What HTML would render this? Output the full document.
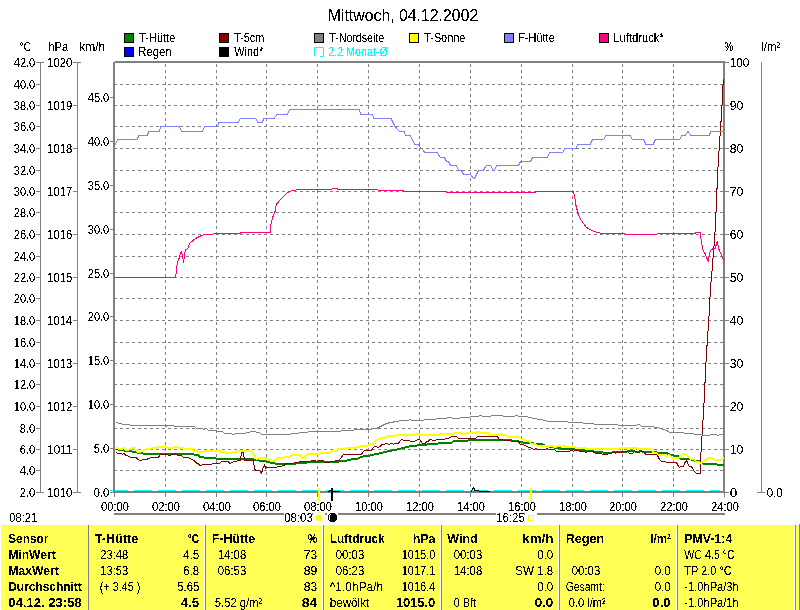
<!DOCTYPE html><html><head><meta charset="utf-8"><title>Mittwoch, 04.12.2002</title><style>html,body{margin:0;padding:0;background:#fff;overflow:hidden}svg{display:block}</style></head><body><svg width="800" height="610" viewBox="0 0 800 610" font-family="Liberation Sans">
<rect width="800" height="610" fill="#fff"/>
<rect x="124.5" y="33.5" width="9" height="9" fill="#008000" stroke="#000" stroke-width="1"/>
<rect x="219.5" y="33.5" width="9" height="9" fill="#800000" stroke="#000" stroke-width="1"/>
<rect x="314.5" y="33.5" width="9" height="9" fill="#808080" stroke="#000" stroke-width="1"/>
<rect x="409.5" y="33.5" width="9" height="9" fill="#FFFF00" stroke="#000" stroke-width="1"/>
<rect x="504.5" y="33.5" width="9" height="9" fill="#8080FF" stroke="#000" stroke-width="1"/>
<rect x="599.5" y="33.5" width="9" height="9" fill="#FF0080" stroke="#000" stroke-width="1"/>
<rect x="124.5" y="47.5" width="9" height="9" fill="#0000FF" stroke="#000" stroke-width="1"/>
<rect x="219.5" y="47.5" width="9" height="9" fill="#000000" stroke="#000" stroke-width="1"/>
<path d="M314.5 56 V47.5 H323.5 V56.5 H320" fill="none" stroke="#00FFFF" stroke-width="1"/>
<rect x="40" y="62" width="1" height="431" fill="#808080"/>
<rect x="77" y="62" width="1" height="431" fill="#808080"/>
<rect x="36" y="62" width="8" height="1" fill="#808080"/>
<rect x="73" y="62" width="8" height="1" fill="#808080"/>
<rect x="36" y="84" width="4" height="1" fill="#808080"/>
<rect x="36" y="105" width="4" height="1" fill="#808080"/>
<rect x="36" y="126" width="4" height="1" fill="#808080"/>
<rect x="36" y="148" width="4" height="1" fill="#808080"/>
<rect x="36" y="170" width="4" height="1" fill="#808080"/>
<rect x="36" y="191" width="4" height="1" fill="#808080"/>
<rect x="36" y="212" width="4" height="1" fill="#808080"/>
<rect x="36" y="234" width="4" height="1" fill="#808080"/>
<rect x="36" y="256" width="4" height="1" fill="#808080"/>
<rect x="36" y="277" width="4" height="1" fill="#808080"/>
<rect x="36" y="298" width="4" height="1" fill="#808080"/>
<rect x="36" y="320" width="4" height="1" fill="#808080"/>
<rect x="36" y="342" width="4" height="1" fill="#808080"/>
<rect x="36" y="363" width="4" height="1" fill="#808080"/>
<rect x="36" y="384" width="4" height="1" fill="#808080"/>
<rect x="36" y="406" width="4" height="1" fill="#808080"/>
<rect x="36" y="428" width="4" height="1" fill="#808080"/>
<rect x="36" y="449" width="4" height="1" fill="#808080"/>
<rect x="36" y="470" width="4" height="1" fill="#808080"/>
<rect x="36" y="492" width="8" height="1" fill="#808080"/>
<rect x="73" y="492" width="8" height="1" fill="#808080"/>
<rect x="73" y="105" width="4" height="1" fill="#808080"/>
<rect x="73" y="148" width="4" height="1" fill="#808080"/>
<rect x="73" y="191" width="4" height="1" fill="#808080"/>
<rect x="73" y="234" width="4" height="1" fill="#808080"/>
<rect x="73" y="277" width="4" height="1" fill="#808080"/>
<rect x="73" y="320" width="4" height="1" fill="#808080"/>
<rect x="73" y="363" width="4" height="1" fill="#808080"/>
<rect x="73" y="406" width="4" height="1" fill="#808080"/>
<rect x="73" y="449" width="4" height="1" fill="#808080"/>
<rect x="110" y="492" width="3" height="1" fill="#808080"/>
<rect x="110" y="448" width="3" height="1" fill="#808080"/>
<rect x="110" y="404" width="3" height="1" fill="#808080"/>
<rect x="110" y="360" width="3" height="1" fill="#808080"/>
<rect x="110" y="316" width="3" height="1" fill="#808080"/>
<rect x="110" y="273" width="3" height="1" fill="#808080"/>
<rect x="110" y="229" width="3" height="1" fill="#808080"/>
<rect x="110" y="185" width="3" height="1" fill="#808080"/>
<rect x="110" y="141" width="3" height="1" fill="#808080"/>
<rect x="110" y="97" width="3" height="1" fill="#808080"/>
<rect x="725" y="62" width="4" height="1" fill="#808080"/>
<rect x="725" y="105" width="4" height="1" fill="#808080"/>
<rect x="725" y="148" width="4" height="1" fill="#808080"/>
<rect x="725" y="191" width="4" height="1" fill="#808080"/>
<rect x="725" y="234" width="4" height="1" fill="#808080"/>
<rect x="725" y="277" width="4" height="1" fill="#808080"/>
<rect x="725" y="320" width="4" height="1" fill="#808080"/>
<rect x="725" y="363" width="4" height="1" fill="#808080"/>
<rect x="725" y="406" width="4" height="1" fill="#808080"/>
<rect x="725" y="449" width="4" height="1" fill="#808080"/>
<rect x="725" y="492" width="4" height="1" fill="#808080"/>
<rect x="761" y="62" width="1" height="431" fill="#808080"/>
<rect x="757" y="492" width="8" height="1" fill="#808080"/>
<g stroke="#808080" stroke-width="1" shape-rendering="crispEdges">
<line x1="114" y1="84.5" x2="723" y2="84.5" stroke-dasharray="3 3"/>
<line x1="114" y1="105.5" x2="723" y2="105.5" stroke-dasharray="3 3"/>
<line x1="114" y1="126.5" x2="723" y2="126.5" stroke-dasharray="3 3"/>
<line x1="114" y1="148.5" x2="723" y2="148.5" stroke-dasharray="3 3"/>
<line x1="114" y1="170.5" x2="723" y2="170.5" stroke-dasharray="3 3"/>
<line x1="114" y1="191.5" x2="723" y2="191.5" stroke-dasharray="3 3"/>
<line x1="114" y1="212.5" x2="723" y2="212.5" stroke-dasharray="3 3"/>
<line x1="114" y1="234.5" x2="723" y2="234.5" stroke-dasharray="3 3"/>
<line x1="114" y1="256.5" x2="723" y2="256.5" stroke-dasharray="3 3"/>
<line x1="114" y1="277.5" x2="723" y2="277.5" stroke-dasharray="3 3"/>
<line x1="114" y1="298.5" x2="723" y2="298.5" stroke-dasharray="3 3"/>
<line x1="114" y1="320.5" x2="723" y2="320.5" stroke-dasharray="3 3"/>
<line x1="114" y1="342.5" x2="723" y2="342.5" stroke-dasharray="3 3"/>
<line x1="114" y1="363.5" x2="723" y2="363.5" stroke-dasharray="3 3"/>
<line x1="114" y1="384.5" x2="723" y2="384.5" stroke-dasharray="3 3"/>
<line x1="114" y1="406.5" x2="723" y2="406.5" stroke-dasharray="3 3"/>
<line x1="114" y1="428.5" x2="723" y2="428.5" stroke-dasharray="3 3"/>
<line x1="114" y1="449.5" x2="723" y2="449.5" stroke-dasharray="3 3"/>
<line x1="114" y1="470.5" x2="723" y2="470.5" stroke-dasharray="3 3"/>
<line x1="165.5" y1="64" x2="165.5" y2="491" stroke-dasharray="3 3"/>
<line x1="216.5" y1="64" x2="216.5" y2="491" stroke-dasharray="3 3"/>
<line x1="266.5" y1="64" x2="266.5" y2="491" stroke-dasharray="3 3"/>
<line x1="317.5" y1="64" x2="317.5" y2="491" stroke-dasharray="3 3"/>
<line x1="368.5" y1="64" x2="368.5" y2="491" stroke-dasharray="3 3"/>
<line x1="419.5" y1="64" x2="419.5" y2="491" stroke-dasharray="3 3"/>
<line x1="470.5" y1="64" x2="470.5" y2="491" stroke-dasharray="3 3"/>
<line x1="521.5" y1="64" x2="521.5" y2="491" stroke-dasharray="3 3"/>
<line x1="572.5" y1="64" x2="572.5" y2="491" stroke-dasharray="3 3"/>
<line x1="622.5" y1="64" x2="622.5" y2="491" stroke-dasharray="3 3"/>
<line x1="673.5" y1="64" x2="673.5" y2="491" stroke-dasharray="3 3"/>
</g>
<rect x="114" y="493" width="1" height="4" fill="#808080"/>
<rect x="165" y="493" width="1" height="4" fill="#808080"/>
<rect x="216" y="493" width="1" height="4" fill="#808080"/>
<rect x="266" y="493" width="1" height="4" fill="#808080"/>
<rect x="317" y="493" width="1" height="4" fill="#808080"/>
<rect x="368" y="493" width="1" height="4" fill="#808080"/>
<rect x="419" y="493" width="1" height="4" fill="#808080"/>
<rect x="470" y="493" width="1" height="4" fill="#808080"/>
<rect x="521" y="493" width="1" height="4" fill="#808080"/>
<rect x="572" y="493" width="1" height="4" fill="#808080"/>
<rect x="622" y="493" width="1" height="4" fill="#808080"/>
<rect x="673" y="493" width="1" height="4" fill="#808080"/>
<rect x="724" y="493" width="1" height="4" fill="#808080"/>
<g shape-rendering="crispEdges">
<rect x="110" y="490" width="18" height="1" fill="#00FFFF"/>
<rect x="134" y="490" width="18" height="1" fill="#00FFFF"/>
<rect x="158" y="490" width="18" height="1" fill="#00FFFF"/>
<rect x="182" y="490" width="18" height="1" fill="#00FFFF"/>
<rect x="206" y="490" width="18" height="1" fill="#00FFFF"/>
<rect x="230" y="490" width="18" height="1" fill="#00FFFF"/>
<rect x="254" y="490" width="18" height="1" fill="#00FFFF"/>
<rect x="278" y="490" width="18" height="1" fill="#00FFFF"/>
<rect x="302" y="490" width="18" height="1" fill="#00FFFF"/>
<rect x="326" y="490" width="18" height="1" fill="#00FFFF"/>
<rect x="350" y="490" width="18" height="1" fill="#00FFFF"/>
<rect x="374" y="490" width="18" height="1" fill="#00FFFF"/>
<rect x="398" y="490" width="18" height="1" fill="#00FFFF"/>
<rect x="422" y="490" width="18" height="1" fill="#00FFFF"/>
<rect x="446" y="490" width="18" height="1" fill="#00FFFF"/>
<rect x="470" y="490" width="18" height="1" fill="#00FFFF"/>
<rect x="494" y="490" width="18" height="1" fill="#00FFFF"/>
<rect x="518" y="490" width="18" height="1" fill="#00FFFF"/>
<rect x="542" y="490" width="18" height="1" fill="#00FFFF"/>
<rect x="566" y="490" width="18" height="1" fill="#00FFFF"/>
<rect x="590" y="490" width="18" height="1" fill="#00FFFF"/>
<rect x="614" y="490" width="18" height="1" fill="#00FFFF"/>
<rect x="638" y="490" width="18" height="1" fill="#00FFFF"/>
<rect x="662" y="490" width="18" height="1" fill="#00FFFF"/>
<rect x="686" y="490" width="18" height="1" fill="#00FFFF"/>
<rect x="710" y="490" width="10" height="1" fill="#00FFFF"/>
</g>
<rect x="115" y="61" width="610" height="2" fill="#808080"/>
<rect x="113" y="491" width="612" height="2" fill="#808080"/>
<rect x="113" y="62" width="2" height="431" fill="#808080"/>
<rect x="723" y="61" width="2" height="432" fill="#808080"/>
<rect x="114" y="493" width="1" height="4" fill="#808080"/>
<rect x="110" y="492" width="3" height="1" fill="#808080"/>
<rect x="725" y="492" width="3" height="1" fill="#808080"/>
<g shape-rendering="crispEdges">
<polyline points="115.5,449 117.5,449 119.5,450 123.5,450 124.5,451 131.5,451 132.5,452 136.5,452 138.5,453 142.5,453 143.5,454 158.5,454 163.5,454 193.5,454 194.5,455 198.5,455 199.5,457 203.5,457 204.5,458 213.5,458 215.5,458 216.5,459 253.5,459 254.5,460 258.5,460 259.5,461 264.5,461 265.5,461 266.5,462 269.5,462 270.5,463 274.5,463 275.5,464 295.5,464 296.5,463 306.5,463 307.5,462 314.5,462 338.5,462 339.5,461 346.5,461 347.5,460 350.5,460 351.5,459 357.5,459 358.5,458 364.5,456 369.5,456 370.5,455 373.5,455 374.5,454 378.5,454 379.5,453 382.5,453 383.5,452 386.5,452 387.5,451 391.5,451 392.5,450 396.5,450 397.5,449 400.5,449 401.5,448 404.5,448 405.5,447 408.5,447 409.5,446 414.5,446 416.5,446 417.5,445 426.5,445 427.5,444 437.5,444 438.5,443 451.5,443 452.5,442 453.5,441 464.5,441 467.5,441 468.5,440 511.5,440 512.5,441 514.5,441 518.5,441 519.5,442 522.5,442 523.5,443 530.5,443 536.5,444 541.5,444 545.5,446 552.5,447 556.5,448 564.5,449 574.5,449 575.5,450 584.5,450 585.5,451 593.5,451 594.5,452 602.5,452 603.5,453 611.5,453 612.5,452 614.5,452 626.5,452 627.5,451 634.5,451 635.5,452 638.5,452 639.5,451 641.5,451 642.5,452 656.5,452 657.5,453 664.5,453 666.5,453 668.5,454 671.5,455 673.5,455 674.5,456 678.5,456 679.5,458 680.5,459 689.5,459 693.5,460 694.5,461 700.5,461 701.5,462 703.5,464 716.5,464 717.5,465 723.5,465" fill="none" stroke="#008000" stroke-width="2" stroke-linejoin="round"/>
<polyline points="115.5,452.5 116.5,452.5 117.5,453.5 121.5,453.5 122.5,454.5 123.5,453.5 124.5,453.5 125.5,455.5 127.5,455.5 128.5,456.5 129.5,456.5 130.5,457.5 136.5,457.5 137.5,459.5 138.5,459.5 139.5,460.5 141.5,460.5 142.5,459.5 146.5,459.5 148.5,458.5 149.5,458.5 150.5,457.5 158.5,457.5 159.5,455.5 160.5,454.5 163.5,454.5 164.5,454.5 167.5,454.5 168.5,455.5 170.5,455.5 171.5,454.5 176.5,454.5 177.5,455.5 181.5,455.5 182.5,456.5 183.5,457.5 188.5,457.5 189.5,458.5 190.5,458.5 191.5,459.5 192.5,459.5 193.5,460.5 195.5,461.5 196.5,463.5 198.5,463.5 199.5,465.5 201.5,465.5 202.5,464.5 211.5,464.5 212.5,463.5 213.5,463.5 219.5,463.5 220.5,462.5 221.5,461.5 228.5,461.5 229.5,463.5 230.5,463.5 231.5,462.5 232.5,462.5 233.5,461.5 236.5,461.5 237.5,460.5 240.5,460.5 241.5,452.5 243.5,452.5 244.5,460.5 253.5,460.5 254.5,468.5 255.5,470.5 259.5,470.5 261.5,473.5 262.5,469.5 264.5,464.5 265.5,468.5 266.5,467.5 276.5,467.5 277.5,466.5 281.5,466.5 282.5,465.5 284.5,465.5 285.5,463.5 293.5,463.5 294.5,462.5 298.5,462.5 299.5,461.5 310.5,461.5 311.5,460.5 314.5,460.5 315.5,460.5 316.5,461.5 317.5,461.5 318.5,460.5 323.5,460.5 324.5,461.5 325.5,462.5 329.5,462.5 330.5,461.5 334.5,461.5 335.5,460.5 338.5,460.5 339.5,459.5 340.5,458.5 341.5,457.5 342.5,455.5 343.5,454.5 361.5,454.5 362.5,452.5 364.5,450.5 371.5,450.5 372.5,448.5 373.5,447.5 374.5,446.5 376.5,446.5 377.5,447.5 378.5,447.5 379.5,446.5 380.5,446.5 381.5,444.5 384.5,444.5 385.5,443.5 387.5,443.5 388.5,444.5 389.5,444.5 390.5,443.5 392.5,443.5 393.5,444.5 394.5,443.5 398.5,443.5 399.5,441.5 400.5,440.5 401.5,439.5 402.5,439.5 403.5,440.5 409.5,440.5 410.5,441.5 414.5,441.5 415.5,440.5 416.5,440.5 417.5,439.5 419.5,439.5 420.5,440.5 421.5,442.5 422.5,443.5 425.5,443.5 426.5,441.5 428.5,441.5 429.5,439.5 431.5,439.5 432.5,440.5 435.5,440.5 436.5,439.5 444.5,439.5 445.5,438.5 448.5,438.5 449.5,437.5 450.5,437.5 451.5,436.5 456.5,436.5 457.5,437.5 458.5,438.5 464.5,438.5 475.5,438.5 476.5,437.5 477.5,436.5 497.5,436.5 498.5,438.5 499.5,439.5 502.5,439.5 503.5,440.5 510.5,440.5 511.5,441.5 514.5,441.5 518.5,441.5 519.5,443.5 520.5,444.5 523.5,444.5 524.5,445.5 525.5,445.5 526.5,446.5 527.5,446.5 528.5,447.5 530.5,447.5 531.5,448.5 532.5,448.5 533.5,449.5 534.5,449.5 535.5,448.5 536.5,448.5 537.5,449.5 545.5,449.5 546.5,448.5 547.5,448.5 548.5,449.5 554.5,449.5 555.5,450.5 556.5,451.5 564.5,451.5 569.5,451.5 570.5,450.5 572.5,450.5 573.5,451.5 574.5,450.5 578.5,450.5 579.5,451.5 584.5,451.5 585.5,452.5 586.5,452.5 587.5,451.5 592.5,451.5 594.5,452.5 595.5,453.5 601.5,453.5 602.5,454.5 607.5,454.5 608.5,453.5 611.5,453.5 612.5,452.5 614.5,452.5 615.5,453.5 616.5,452.5 622.5,452.5 623.5,451.5 627.5,451.5 628.5,452.5 629.5,453.5 632.5,453.5 633.5,452.5 634.5,451.5 636.5,451.5 637.5,452.5 639.5,452.5 640.5,451.5 643.5,451.5 644.5,452.5 645.5,454.5 656.5,454.5 657.5,455.5 658.5,457.5 659.5,459.5 660.5,460.5 661.5,461.5 664.5,461.5 665.5,461.5 666.5,462.5 676.5,462.5 677.5,464.5 678.5,466.5 679.5,467.5 680.5,466.5 683.5,466.5 684.5,463.5 685.5,461.5 686.5,460.5 687.5,462.5 688.5,465.5 689.5,466.5 691.5,466.5 692.5,468.5 694.5,471.5 695.5,472.5 696.5,473.5 700.5,473.5 700.9,453.5 702.4,430.5 704.3,398.5 705.2,378.5 706.2,358.5 707.4,339.5 708.8,319.5 710.5,288.5 712.2,268.5 713.8,248.5 715.2,229.5 716.8,195.5 717.3,178.5 718.5,159.5 719.6,142.5 720.9,123.5 722,105.5 722.7,88.5 723.5,79.5" fill="none" stroke="#800000" stroke-width="1" stroke-linejoin="round"/>
<polyline points="115.5,422.5 117.5,422.5 118.5,423.5 121.5,423.5 122.5,424.5 129.5,424.5 130.5,425.5 164.5,425.5 165.5,426.5 167.5,425.5 173.5,425.5 174.5,426.5 194.5,426.5 195.5,427.5 196.5,428.5 202.5,428.5 203.5,429.5 204.5,429.5 205.5,428.5 206.5,428.5 207.5,429.5 208.5,430.5 214.5,430.5 215.5,430.5 216.5,431.5 222.5,431.5 223.5,432.5 224.5,433.5 231.5,433.5 232.5,434.5 234.5,434.5 235.5,433.5 245.5,433.5 246.5,432.5 249.5,432.5 250.5,431.5 255.5,431.5 256.5,432.5 259.5,432.5 260.5,433.5 261.5,434.5 290.5,434.5 291.5,433.5 298.5,433.5 299.5,432.5 307.5,432.5 308.5,431.5 314.5,431.5 340.5,431.5 341.5,430.5 353.5,430.5 354.5,429.5 368.5,429.5 370.5,429.5 372.5,428.5 376.5,428.5 378.5,427.5 380.5,426.5 382.5,425.5 384.5,424.5 386.5,423.5 390.5,422.5 392.5,422.5 394.5,421.5 398.5,421.5 399.5,420.5 408.5,420.5 409.5,419.5 410.5,419.5 411.5,420.5 414.5,420.5 423.5,420.5 424.5,419.5 435.5,419.5 436.5,418.5 446.5,418.5 447.5,417.5 451.5,417.5 452.5,418.5 459.5,418.5 460.5,417.5 469.5,417.5 470.5,416.5 478.5,416.5 479.5,415.5 481.5,415.5 482.5,416.5 490.5,416.5 491.5,415.5 514.5,416.5 515.5,415.5 517.5,415.5 518.5,416.5 527.5,416.5 528.5,417.5 531.5,417.5 532.5,418.5 536.5,418.5 537.5,419.5 542.5,419.5 543.5,420.5 546.5,420.5 547.5,421.5 567.5,421.5 568.5,422.5 582.5,422.5 583.5,423.5 593.5,423.5 594.5,424.5 614.5,424.5 617.5,424.5 618.5,425.5 636.5,425.5 637.5,424.5 639.5,424.5 640.5,425.5 641.5,426.5 653.5,426.5 654.5,427.5 658.5,427.5 659.5,428.5 661.5,428.5 663.5,429.5 666.5,430.5 668.5,431.5 669.5,432.5 683.5,432.5 684.5,433.5 693.5,433.5 694.5,434.5 702.5,434.5 703.5,435.5 709.5,435.5 710.5,434.5 716.5,434.5 717.5,435.5 718.5,435.5 719.5,434.5 722.5,434.5" fill="none" stroke="#808080" stroke-width="1" stroke-linejoin="round"/>
<polyline points="115.5,448 117.5,448 118.5,449 122.5,449 123.5,448 124.5,448 125.5,450 128.5,450 129.5,449 130.5,449 131.5,448 134.5,448 137.5,452 140.5,452 141.5,451 142.5,451 143.5,450 145.5,450 146.5,449 150.5,449 151.5,448 156.5,448 157.5,447 163.5,447 166.5,447 167.5,448 172.5,448 173.5,447 177.5,447 178.5,448 183.5,448 184.5,449 192.5,449 193.5,451 194.5,451 195.5,450 196.5,450 197.5,452 202.5,452 203.5,451 213.5,451 216.5,451 217.5,450 219.5,450 220.5,452 224.5,452 225.5,453 230.5,453 231.5,452 236.5,452 237.5,451 251.5,451 252.5,452 253.5,454 254.5,456 255.5,458 256.5,459 257.5,459 258.5,458 264.5,458 266.5,458 267.5,460 270.5,460 271.5,461 274.5,461 276.5,458 283.5,458 284.5,457 290.5,457 291.5,455 300.5,455 301.5,458 304.5,458 305.5,456 306.5,455 307.5,454 314.5,454 319.5,454 320.5,453 329.5,453 330.5,452 331.5,452 332.5,451 336.5,451 337.5,449 344.5,449 345.5,448 355.5,448 356.5,447 364.5,446 366.5,446 367.5,445 369.5,445 370.5,444 373.5,444 374.5,442 375.5,441 376.5,440 377.5,440 378.5,439 380.5,439 381.5,438 384.5,438 385.5,437 386.5,437 387.5,436 395.5,436 396.5,435 403.5,435 404.5,434 405.5,436 406.5,436 407.5,435 414.5,435 415.5,434 418.5,434 419.5,435 438.5,435 439.5,434 452.5,434 453.5,433 461.5,433 462.5,434 464.5,434 465.5,434 466.5,433 475.5,433 476.5,432 479.5,432 480.5,433 488.5,433 489.5,435 499.5,435 500.5,434 501.5,435 505.5,435 506.5,436 507.5,436 508.5,437 514.5,437 518.5,437 519.5,438 520.5,438 521.5,439 523.5,439 524.5,441 528.5,441 529.5,442 530.5,443 531.5,444 535.5,444 536.5,445 537.5,446 552.5,446 553.5,447 556.5,447 557.5,446 564.5,446 565.5,447 575.5,447 576.5,448 585.5,448 586.5,449 614.5,449 619.5,449 620.5,448 636.5,448 637.5,449 651.5,449 652.5,451 653.5,453 656.5,453 657.5,454 658.5,455 664.5,455 665.5,456 666.5,457 667.5,456 668.5,455 669.5,455 670.5,456 671.5,457 672.5,458 678.5,458 679.5,457 680.5,456 681.5,455 682.5,454 685.5,454 686.5,455 687.5,456 688.5,457 689.5,458 690.5,459 693.5,459 694.5,460 695.5,461 696.5,462 699.5,462 700.5,463 701.5,462 702.5,462 703.5,461 705.5,460 707.5,459 708.5,458 711.5,458 712.5,459 713.5,460 720.5,460 721.5,459 722.5,458 723.5,458" fill="none" stroke="#FFFF00" stroke-width="2" stroke-linejoin="round"/>
<polyline points="115,144.5 118,139.5 137,139.5 139,135.5 147,135.5 149,131.5 159,131.5 161,126.5 179,126.5 182,131.5 202,131.5 205,126.5 217.5,126.5 219,122.5 238,122.5 240.5,118.5 255.5,118.5 258,122.5 262,122.5 264,118.5 274,118.5 277,114.5 287,114.5 290,109.5 359,109.5 361,114.5 372.5,114.5 374,118.5 391,118.5 395,126.5 399.5,131.5 404,131.5 405.5,135.5 410,135.5 415,144.5 418,144.5 425,152.5 437,152.5 440.5,157.5 444.5,157.5 446.5,161.5 448.5,161.5 450.5,165.5 456.5,165.5 458.5,170.5 461.5,170.5 463.5,174.5 470.5,174.5 473.5,178.5 474.5,178.5 478.5,170.5 483.5,170.5 485.5,166.5 486.5,165.5 490.5,165.5 493.5,170.5 494.5,170.5 496.5,165.5 518.5,165.5 520.5,161.5 530.5,161.5 532.5,157.5 540.5,157.5 547,157.5 550,152.5 562.5,152.5 565,148.5 575.5,148.5 578,144.5 590,144.5 592.5,139.5 603.5,139.5 606,135.5 630,135.5 632.5,139.5 643.5,139.5 646,144.5 653,144.5 655.5,139.5 679.5,139.5 682,135.5 685,135.5 688,131.5 691,135.5 709,135.5 711,131.5 723,131.5" fill="none" stroke="#8080FF" stroke-width="1" stroke-linejoin="round"/>
<polyline points="115,277.5 175.4,277.5 175.9,275.5 176.7,266.5 177.7,261.5 179.4,257.5 180.3,253.5 181.3,251.5 182.3,254.5 183.6,262.5 184.6,254.5 185.6,249.5 187.7,248.5 189.7,243.5 191.7,241.5 195.6,238.5 199.5,236.5 201.5,235.5 204.9,234.5 212.3,234.5 213.3,233.5 240,233.5 241,232.5 270.5,232.5 270.8,226.5 271.2,222.5 272.6,217.5 274.4,213.5 275.3,210.5 275.7,206.5 277,203.5 279.7,200.5 283.2,196.5 286.3,193.5 289.4,191.5 292.5,190.5 299.2,189.5 331.6,189.5 332.5,188.5 337.2,188.5 338.1,189.5 377.5,189.5 378.5,190.5 402.9,190.5 403.8,191.5 446,191.5 446.5,192.5 535.4,192.5 536,191.5 573.2,191.5 574.5,195.5 576,205.5 578,213.5 580.2,218.5 583.4,223.5 586.6,227.5 591.9,230.5 597.2,232.5 602.5,233.5 623.75,233.5 625.9,234.5 655.6,234.5 657.75,233.5 695,233.5 696,232.5 700.25,232.5 701.3,241.5 702.8,249.5 705.6,254.5 708.1,261.5 710.4,250.5 713,248.5 715.1,248.5 717.25,241.5 719,249.5 721.5,255.5 723.6,260.5" fill="none" stroke="#FF0080" stroke-width="1" stroke-linejoin="round"/>
</g>
<rect x="479" y="491" width="11" height="1" fill="#000"/>
<rect x="475" y="490" width="4" height="1" fill="#000"/>
<polyline points="471,491.5 473.5,487.5 475,490.5" fill="none" stroke="#000" stroke-width="1" shape-rendering="crispEdges"/>
<rect x="328" y="491" width="2" height="1" fill="#000"/>
<rect x="329" y="490" width="3" height="1" fill="#000"/>
<rect x="333" y="491" width="7" height="1" fill="#000"/>
<rect x="318" y="488" width="2" height="13" fill="#FFFF00"/>
<rect x="530" y="488" width="2" height="13" fill="#FFFF00"/>
<rect x="331" y="488" width="2" height="13" fill="#000"/>
<rect x="114" y="513" width="170" height="2" fill="#808080"/>
<rect x="338" y="513" width="158" height="2" fill="#808080"/>
<rect x="537" y="513" width="188" height="2" fill="#808080"/>
<rect x="312" y="513" width="1" height="2" fill="#808080"/>
<rect x="325" y="513" width="2" height="2" fill="#808080"/>
<rect x="524" y="513" width="1" height="2" fill="#808080"/>
<g fill="#FFFFA0" shape-rendering="crispEdges"><rect x="318" y="512" width="3" height="1"/><rect x="318" y="523" width="3" height="1"/><rect x="313" y="517" width="1" height="3"/><rect x="324" y="517" width="1" height="3"/><rect x="314" y="513" width="1" height="1"/><rect x="315" y="514" width="1" height="1"/><rect x="323" y="513" width="1" height="1"/><rect x="322" y="514" width="1" height="1"/><rect x="314" y="522" width="1" height="1"/><rect x="315" y="521" width="1" height="1"/><rect x="323" y="522" width="1" height="1"/><rect x="322" y="521" width="1" height="1"/></g>
<g fill="#FFFF00" shape-rendering="crispEdges"><rect x="317" y="515" width="4" height="6"/><rect x="316" y="516" width="6" height="4"/></g>
<g fill="#000" shape-rendering="crispEdges"><rect x="330" y="513" width="5" height="9"/><rect x="329" y="514" width="7" height="7"/><rect x="328" y="515" width="9" height="5"/></g>
<g fill="#fff" shape-rendering="crispEdges"><rect x="330" y="514" width="1" height="1"/><rect x="329" y="515" width="1" height="5"/></g>
<rect x="528.5" y="515.5" width="5" height="5" fill="none" stroke="#FFFF00" stroke-width="1"/>
<rect x="1" y="525" width="793" height="85" fill="#FFFF55"/>
<rect x="796" y="525" width="3" height="85" fill="#FFFF55"/>
<rect x="87" y="525" width="1" height="85" fill="#FFFFFF"/>
<rect x="88" y="525" width="1" height="85" fill="#808080"/>
<rect x="204" y="525" width="1" height="85" fill="#FFFFFF"/>
<rect x="205" y="525" width="1" height="85" fill="#808080"/>
<rect x="322" y="525" width="1" height="85" fill="#FFFFFF"/>
<rect x="323" y="525" width="1" height="85" fill="#808080"/>
<rect x="440" y="525" width="1" height="85" fill="#FFFFFF"/>
<rect x="441" y="525" width="1" height="85" fill="#808080"/>
<rect x="558" y="525" width="1" height="85" fill="#FFFFFF"/>
<rect x="559" y="525" width="1" height="85" fill="#808080"/>
<rect x="676" y="525" width="1" height="85" fill="#FFFFFF"/>
<rect x="677" y="525" width="1" height="85" fill="#808080"/>
<rect x="794" y="525" width="1" height="85" fill="#FFFFFF"/>
<rect x="795" y="525" width="1" height="85" fill="#808080"/>
<rect x="799" y="524" width="1" height="86" fill="#808080"/>
<filter id="bin" x="0" y="0" width="800" height="610" filterUnits="userSpaceOnUse"><feComponentTransfer><feFuncA type="discrete" tableValues="0 0 0 0 0 0 0 0 0 1 1 1 1 1 1 1 1 1 1 1"/></feComponentTransfer></filter>
<g filter="url(#bin)">
<text x="327.75" y="21" font-size="16.5" textLength="150.5" lengthAdjust="spacingAndGlyphs" fill="#000">Mittwoch, 04.12.2002</text>
<text x="139.25" y="42" font-size="12.5" textLength="36.0" lengthAdjust="spacingAndGlyphs" fill="#000">T-Hütte</text>
<text x="234.25" y="42" font-size="12.5" textLength="30.0" lengthAdjust="spacingAndGlyphs" fill="#000">T-5cm</text>
<text x="329.25" y="42" font-size="12.5" textLength="55.0" lengthAdjust="spacingAndGlyphs" fill="#000">T-Nordseite</text>
<text x="424.25" y="42" font-size="12.5" textLength="41.0" lengthAdjust="spacingAndGlyphs" fill="#000">T-Sonne</text>
<text x="518.25" y="42" font-size="12.5" textLength="36.5" lengthAdjust="spacingAndGlyphs" fill="#000">F-Hütte</text>
<text x="613.25" y="42" font-size="12.5" textLength="50.5" lengthAdjust="spacingAndGlyphs" fill="#000">Luftdruck*</text>
<text x="138.25" y="56" font-size="12.5" textLength="33.5" lengthAdjust="spacingAndGlyphs" fill="#000">Regen</text>
<text x="234.25" y="56" font-size="12.5" textLength="29.0" lengthAdjust="spacingAndGlyphs" fill="#000">Wind*</text>
<text x="328.25" y="56" font-size="12.5" textLength="59.5" lengthAdjust="spacingAndGlyphs" fill="#00FFFF">2.2 Monat-Ø</text>
<text x="19.25" y="51" font-size="12.5" textLength="12.0" lengthAdjust="spacingAndGlyphs" fill="#000">°C</text>
<text x="48.25" y="51" font-size="12.5" textLength="20.0" lengthAdjust="spacingAndGlyphs" fill="#000">hPa</text>
<text x="79.25" y="51" font-size="12.5" textLength="26.0" lengthAdjust="spacingAndGlyphs" fill="#000">km/h</text>
<text x="724.25" y="51" font-size="12.5" textLength="9.0" lengthAdjust="spacingAndGlyphs" fill="#000">%</text>
<text x="761.25" y="51" font-size="12.5" textLength="19.0" lengthAdjust="spacingAndGlyphs" fill="#000">l/m²</text>
<text x="35.25" y="67" font-size="12.5" text-anchor="end" textLength="21.5" lengthAdjust="spacingAndGlyphs" fill="#000">42.0</text>
<text x="35.25" y="89" font-size="12.5" text-anchor="end" textLength="21.5" lengthAdjust="spacingAndGlyphs" fill="#000">40.0</text>
<text x="35.25" y="110" font-size="12.5" text-anchor="end" textLength="21.5" lengthAdjust="spacingAndGlyphs" fill="#000">38.0</text>
<text x="35.25" y="131" font-size="12.5" text-anchor="end" textLength="21.5" lengthAdjust="spacingAndGlyphs" fill="#000">36.0</text>
<text x="35.25" y="153" font-size="12.5" text-anchor="end" textLength="21.5" lengthAdjust="spacingAndGlyphs" fill="#000">34.0</text>
<text x="35.25" y="175" font-size="12.5" text-anchor="end" textLength="21.5" lengthAdjust="spacingAndGlyphs" fill="#000">32.0</text>
<text x="35.25" y="196" font-size="12.5" text-anchor="end" textLength="21.5" lengthAdjust="spacingAndGlyphs" fill="#000">30.0</text>
<text x="35.25" y="217" font-size="12.5" text-anchor="end" textLength="21.5" lengthAdjust="spacingAndGlyphs" fill="#000">28.0</text>
<text x="35.25" y="239" font-size="12.5" text-anchor="end" textLength="21.5" lengthAdjust="spacingAndGlyphs" fill="#000">26.0</text>
<text x="35.25" y="261" font-size="12.5" text-anchor="end" textLength="21.5" lengthAdjust="spacingAndGlyphs" fill="#000">24.0</text>
<text x="35.25" y="282" font-size="12.5" text-anchor="end" textLength="21.5" lengthAdjust="spacingAndGlyphs" fill="#000">22.0</text>
<text x="35.25" y="303" font-size="12.5" text-anchor="end" textLength="21.5" lengthAdjust="spacingAndGlyphs" fill="#000">20.0</text>
<text x="35.25" y="325" font-size="12.5" text-anchor="end" textLength="21.5" lengthAdjust="spacingAndGlyphs" fill="#000">18.0</text>
<text x="35.25" y="347" font-size="12.5" text-anchor="end" textLength="21.5" lengthAdjust="spacingAndGlyphs" fill="#000">16.0</text>
<text x="35.25" y="368" font-size="12.5" text-anchor="end" textLength="21.5" lengthAdjust="spacingAndGlyphs" fill="#000">14.0</text>
<text x="35.25" y="389" font-size="12.5" text-anchor="end" textLength="21.5" lengthAdjust="spacingAndGlyphs" fill="#000">12.0</text>
<text x="35.25" y="411" font-size="12.5" text-anchor="end" textLength="21.5" lengthAdjust="spacingAndGlyphs" fill="#000">10.0</text>
<text x="35.25" y="433" font-size="12.5" text-anchor="end" textLength="15.5" lengthAdjust="spacingAndGlyphs" fill="#000">8.0</text>
<text x="35.25" y="454" font-size="12.5" text-anchor="end" textLength="15.5" lengthAdjust="spacingAndGlyphs" fill="#000">6.0</text>
<text x="35.25" y="475" font-size="12.5" text-anchor="end" textLength="15.5" lengthAdjust="spacingAndGlyphs" fill="#000">4.0</text>
<text x="35.25" y="497" font-size="12.5" text-anchor="end" textLength="15.5" lengthAdjust="spacingAndGlyphs" fill="#000">2.0</text>
<text x="72.25" y="67" font-size="12.5" text-anchor="end" textLength="25.0" lengthAdjust="spacingAndGlyphs" fill="#000">1020</text>
<text x="72.25" y="110" font-size="12.5" text-anchor="end" textLength="25.0" lengthAdjust="spacingAndGlyphs" fill="#000">1019</text>
<text x="72.25" y="153" font-size="12.5" text-anchor="end" textLength="25.0" lengthAdjust="spacingAndGlyphs" fill="#000">1018</text>
<text x="72.25" y="196" font-size="12.5" text-anchor="end" textLength="25.0" lengthAdjust="spacingAndGlyphs" fill="#000">1017</text>
<text x="72.25" y="239" font-size="12.5" text-anchor="end" textLength="25.0" lengthAdjust="spacingAndGlyphs" fill="#000">1016</text>
<text x="72.25" y="282" font-size="12.5" text-anchor="end" textLength="25.0" lengthAdjust="spacingAndGlyphs" fill="#000">1015</text>
<text x="72.25" y="325" font-size="12.5" text-anchor="end" textLength="25.0" lengthAdjust="spacingAndGlyphs" fill="#000">1014</text>
<text x="72.25" y="368" font-size="12.5" text-anchor="end" textLength="25.0" lengthAdjust="spacingAndGlyphs" fill="#000">1013</text>
<text x="72.25" y="411" font-size="12.5" text-anchor="end" textLength="25.0" lengthAdjust="spacingAndGlyphs" fill="#000">1012</text>
<text x="72.25" y="454" font-size="12.5" text-anchor="end" textLength="25.0" lengthAdjust="spacingAndGlyphs" fill="#000">1011</text>
<text x="72.25" y="497" font-size="12.5" text-anchor="end" textLength="25.0" lengthAdjust="spacingAndGlyphs" fill="#000">1010</text>
<text x="109.25" y="497" font-size="12.5" text-anchor="end" textLength="15.5" lengthAdjust="spacingAndGlyphs" fill="#000">0.0</text>
<text x="109.25" y="453" font-size="12.5" text-anchor="end" textLength="15.5" lengthAdjust="spacingAndGlyphs" fill="#000">5.0</text>
<text x="109.25" y="409" font-size="12.5" text-anchor="end" textLength="21.5" lengthAdjust="spacingAndGlyphs" fill="#000">10.0</text>
<text x="109.25" y="365" font-size="12.5" text-anchor="end" textLength="21.5" lengthAdjust="spacingAndGlyphs" fill="#000">15.0</text>
<text x="109.25" y="321" font-size="12.5" text-anchor="end" textLength="21.5" lengthAdjust="spacingAndGlyphs" fill="#000">20.0</text>
<text x="109.25" y="278" font-size="12.5" text-anchor="end" textLength="21.5" lengthAdjust="spacingAndGlyphs" fill="#000">25.0</text>
<text x="109.25" y="234" font-size="12.5" text-anchor="end" textLength="21.5" lengthAdjust="spacingAndGlyphs" fill="#000">30.0</text>
<text x="109.25" y="190" font-size="12.5" text-anchor="end" textLength="21.5" lengthAdjust="spacingAndGlyphs" fill="#000">35.0</text>
<text x="109.25" y="146" font-size="12.5" text-anchor="end" textLength="21.5" lengthAdjust="spacingAndGlyphs" fill="#000">40.0</text>
<text x="109.25" y="102" font-size="12.5" text-anchor="end" textLength="21.5" lengthAdjust="spacingAndGlyphs" fill="#000">45.0</text>
<text x="729.75" y="67" font-size="12.5" textLength="19.5" lengthAdjust="spacingAndGlyphs" fill="#000">100</text>
<text x="729.75" y="110" font-size="12.5" textLength="13.5" lengthAdjust="spacingAndGlyphs" fill="#000">90</text>
<text x="729.75" y="153" font-size="12.5" textLength="13.5" lengthAdjust="spacingAndGlyphs" fill="#000">80</text>
<text x="729.75" y="196" font-size="12.5" textLength="13.5" lengthAdjust="spacingAndGlyphs" fill="#000">70</text>
<text x="729.75" y="239" font-size="12.5" textLength="13.5" lengthAdjust="spacingAndGlyphs" fill="#000">60</text>
<text x="729.75" y="282" font-size="12.5" textLength="13.5" lengthAdjust="spacingAndGlyphs" fill="#000">50</text>
<text x="729.75" y="325" font-size="12.5" textLength="13.5" lengthAdjust="spacingAndGlyphs" fill="#000">40</text>
<text x="729.75" y="368" font-size="12.5" textLength="13.5" lengthAdjust="spacingAndGlyphs" fill="#000">30</text>
<text x="729.75" y="411" font-size="12.5" textLength="13.5" lengthAdjust="spacingAndGlyphs" fill="#000">20</text>
<text x="729.75" y="454" font-size="12.5" textLength="13.5" lengthAdjust="spacingAndGlyphs" fill="#000">10</text>
<text x="729.75" y="497" font-size="12.5" textLength="7.5" lengthAdjust="spacingAndGlyphs" fill="#000">0</text>
<text x="766.75" y="497" font-size="12.5" textLength="16.0" lengthAdjust="spacingAndGlyphs" fill="#000">0.0</text>
<text x="115" y="511" font-size="12.5" text-anchor="middle" textLength="28.0" lengthAdjust="spacingAndGlyphs" fill="#000">00:00</text>
<text x="166" y="511" font-size="12.5" text-anchor="middle" textLength="28.0" lengthAdjust="spacingAndGlyphs" fill="#000">02:00</text>
<text x="217" y="511" font-size="12.5" text-anchor="middle" textLength="28.0" lengthAdjust="spacingAndGlyphs" fill="#000">04:00</text>
<text x="267" y="511" font-size="12.5" text-anchor="middle" textLength="28.0" lengthAdjust="spacingAndGlyphs" fill="#000">06:00</text>
<text x="318" y="511" font-size="12.5" text-anchor="middle" textLength="28.0" lengthAdjust="spacingAndGlyphs" fill="#000">08:00</text>
<text x="369" y="511" font-size="12.5" text-anchor="middle" textLength="28.0" lengthAdjust="spacingAndGlyphs" fill="#000">10:00</text>
<text x="420" y="511" font-size="12.5" text-anchor="middle" textLength="28.0" lengthAdjust="spacingAndGlyphs" fill="#000">12:00</text>
<text x="471" y="511" font-size="12.5" text-anchor="middle" textLength="28.0" lengthAdjust="spacingAndGlyphs" fill="#000">14:00</text>
<text x="522" y="511" font-size="12.5" text-anchor="middle" textLength="28.0" lengthAdjust="spacingAndGlyphs" fill="#000">16:00</text>
<text x="573" y="511" font-size="12.5" text-anchor="middle" textLength="28.0" lengthAdjust="spacingAndGlyphs" fill="#000">18:00</text>
<text x="623" y="511" font-size="12.5" text-anchor="middle" textLength="28.0" lengthAdjust="spacingAndGlyphs" fill="#000">20:00</text>
<text x="674" y="511" font-size="12.5" text-anchor="middle" textLength="28.0" lengthAdjust="spacingAndGlyphs" fill="#000">22:00</text>
<text x="725" y="511" font-size="12.5" text-anchor="middle" textLength="28.0" lengthAdjust="spacingAndGlyphs" fill="#000">24:00</text>
<text x="9.25" y="522" font-size="12.5" textLength="28.0" lengthAdjust="spacingAndGlyphs" fill="#000">08:21</text>
<text x="284.25" y="522" font-size="12.5" textLength="28.5" lengthAdjust="spacingAndGlyphs" fill="#000">08:03</text>
<text x="496.25" y="522" font-size="12.5" textLength="28.5" lengthAdjust="spacingAndGlyphs" fill="#000">16:25</text>
<text x="8.25" y="543" font-size="12.5" font-weight="bold" textLength="40.0" lengthAdjust="spacingAndGlyphs" fill="#000">Sensor</text>
<text x="8.25" y="559" font-size="12.5" font-weight="bold" textLength="47.5" lengthAdjust="spacingAndGlyphs" fill="#000">MinWert</text>
<text x="8.25" y="575" font-size="12.5" font-weight="bold" textLength="50.5" lengthAdjust="spacingAndGlyphs" fill="#000">MaxWert</text>
<text x="8.25" y="591" font-size="12.5" font-weight="bold" textLength="73.5" lengthAdjust="spacingAndGlyphs" fill="#000">Durchschnitt</text>
<text x="8.25" y="607" font-size="12.5" font-weight="bold" textLength="73.5" lengthAdjust="spacingAndGlyphs" fill="#000">04.12. 23:58</text>
<text x="94.75" y="543" font-size="12.5" font-weight="bold" textLength="43.5" lengthAdjust="spacingAndGlyphs" fill="#000">T-Hütte</text>
<text x="199.25" y="543" font-size="12.5" font-weight="bold" text-anchor="end" textLength="11.5" lengthAdjust="spacingAndGlyphs" fill="#000">°C</text>
<text x="211.75" y="543" font-size="12.5" font-weight="bold" textLength="43.5" lengthAdjust="spacingAndGlyphs" fill="#000">F-Hütte</text>
<text x="317.25" y="543" font-size="12.5" font-weight="bold" text-anchor="end" textLength="9.5" lengthAdjust="spacingAndGlyphs" fill="#000">%</text>
<text x="329.75" y="543" font-size="12.5" font-weight="bold" textLength="55.0" lengthAdjust="spacingAndGlyphs" fill="#000">Luftdruck</text>
<text x="435.25" y="543" font-size="12.5" font-weight="bold" text-anchor="end" textLength="22.5" lengthAdjust="spacingAndGlyphs" fill="#000">hPa</text>
<text x="447.25" y="543" font-size="12.5" font-weight="bold" textLength="30.5" lengthAdjust="spacingAndGlyphs" fill="#000">Wind</text>
<text x="553.25" y="543" font-size="12.5" font-weight="bold" text-anchor="end" textLength="31.0" lengthAdjust="spacingAndGlyphs" fill="#000">km/h</text>
<text x="565.75" y="543" font-size="12.5" font-weight="bold" textLength="38.5" lengthAdjust="spacingAndGlyphs" fill="#000">Regen</text>
<text x="670.75" y="543" font-size="12.5" font-weight="bold" text-anchor="end" textLength="20.5" lengthAdjust="spacingAndGlyphs" fill="#000">l/m²</text>
<text x="684.25" y="543" font-size="12.5" font-weight="bold" textLength="48.0" lengthAdjust="spacingAndGlyphs" fill="#000">PMV-1:4</text>
<text x="100.25" y="559" font-size="12" textLength="28.0" lengthAdjust="spacingAndGlyphs" fill="#000">23:48</text>
<text x="199.25" y="559" font-size="12" text-anchor="end" textLength="16.0" lengthAdjust="spacingAndGlyphs" fill="#000">4.5</text>
<text x="100.25" y="575" font-size="12" textLength="28.0" lengthAdjust="spacingAndGlyphs" fill="#000">13:53</text>
<text x="199.25" y="575" font-size="12" text-anchor="end" textLength="16.0" lengthAdjust="spacingAndGlyphs" fill="#000">6.8</text>
<text x="99.75" y="591" font-size="12" textLength="40.5" lengthAdjust="spacingAndGlyphs" fill="#000">(+ 3.45 )</text>
<text x="199.25" y="591" font-size="12" text-anchor="end" textLength="22.0" lengthAdjust="spacingAndGlyphs" fill="#000">5.65</text>
<text x="199.25" y="607" font-size="12" font-weight="bold" text-anchor="end" textLength="18.5" lengthAdjust="spacingAndGlyphs" fill="#000">4.5</text>
<text x="217.75" y="559" font-size="12" textLength="28.5" lengthAdjust="spacingAndGlyphs" fill="#000">14:08</text>
<text x="317.25" y="559" font-size="12" text-anchor="end" textLength="13.5" lengthAdjust="spacingAndGlyphs" fill="#000">73</text>
<text x="217.75" y="575" font-size="12" textLength="28.5" lengthAdjust="spacingAndGlyphs" fill="#000">06:53</text>
<text x="317.25" y="575" font-size="12" text-anchor="end" textLength="13.5" lengthAdjust="spacingAndGlyphs" fill="#000">89</text>
<text x="317.25" y="591" font-size="12" text-anchor="end" textLength="13.5" lengthAdjust="spacingAndGlyphs" fill="#000">83</text>
<text x="214.75" y="607" font-size="12" textLength="47.5" lengthAdjust="spacingAndGlyphs" fill="#000">5.52 g/m²</text>
<text x="317.25" y="607" font-size="12" font-weight="bold" text-anchor="end" textLength="15.5" lengthAdjust="spacingAndGlyphs" fill="#000">84</text>
<text x="335.75" y="559" font-size="12" textLength="28.5" lengthAdjust="spacingAndGlyphs" fill="#000">00:03</text>
<text x="435.25" y="559" font-size="12" text-anchor="end" textLength="33.5" lengthAdjust="spacingAndGlyphs" fill="#000">1015.0</text>
<text x="335.75" y="575" font-size="12" textLength="28.5" lengthAdjust="spacingAndGlyphs" fill="#000">06:23</text>
<text x="435.25" y="575" font-size="12" text-anchor="end" textLength="33.5" lengthAdjust="spacingAndGlyphs" fill="#000">1017.1</text>
<text x="329.75" y="591" font-size="12" textLength="53.5" lengthAdjust="spacingAndGlyphs" fill="#000">^1.0hPa/h</text>
<text x="435.25" y="591" font-size="12" text-anchor="end" textLength="33.5" lengthAdjust="spacingAndGlyphs" fill="#000">1016.4</text>
<text x="329.75" y="607" font-size="12" textLength="39.5" lengthAdjust="spacingAndGlyphs" fill="#000">bewölkt</text>
<text x="435.25" y="607" font-size="12" font-weight="bold" text-anchor="end" textLength="39.5" lengthAdjust="spacingAndGlyphs" fill="#000">1015.0</text>
<text x="453.75" y="559" font-size="12" textLength="28.5" lengthAdjust="spacingAndGlyphs" fill="#000">00:03</text>
<text x="553.25" y="559" font-size="12" text-anchor="end" textLength="16.0" lengthAdjust="spacingAndGlyphs" fill="#000">0.0</text>
<text x="453.75" y="575" font-size="12" textLength="28.5" lengthAdjust="spacingAndGlyphs" fill="#000">14:08</text>
<text x="553.25" y="575" font-size="12" text-anchor="end" textLength="38.0" lengthAdjust="spacingAndGlyphs" fill="#000">SW 1.8</text>
<text x="553.25" y="591" font-size="12" text-anchor="end" textLength="16.0" lengthAdjust="spacingAndGlyphs" fill="#000">0.0</text>
<text x="453.75" y="607" font-size="12" textLength="22.5" lengthAdjust="spacingAndGlyphs" fill="#000">0 Bft</text>
<text x="553.25" y="607" font-size="12" font-weight="bold" text-anchor="end" textLength="18.5" lengthAdjust="spacingAndGlyphs" fill="#000">0.0</text>
<text x="571.75" y="575" font-size="12" textLength="28.5" lengthAdjust="spacingAndGlyphs" fill="#000">00:03</text>
<text x="670.75" y="575" font-size="12" text-anchor="end" textLength="16.0" lengthAdjust="spacingAndGlyphs" fill="#000">0.0</text>
<text x="565.75" y="591" font-size="12" textLength="39.0" lengthAdjust="spacingAndGlyphs" fill="#000">Gesamt:</text>
<text x="670.75" y="591" font-size="12" text-anchor="end" textLength="16.0" lengthAdjust="spacingAndGlyphs" fill="#000">0.0</text>
<text x="568.75" y="607" font-size="12" textLength="37.0" lengthAdjust="spacingAndGlyphs" fill="#000">0.0 l/m²</text>
<text x="670.75" y="607" font-size="12" font-weight="bold" text-anchor="end" textLength="18.5" lengthAdjust="spacingAndGlyphs" fill="#000">0.0</text>
<text x="684.25" y="559" font-size="12" textLength="50.5" lengthAdjust="spacingAndGlyphs" fill="#000">WC 4.5 °C</text>
<text x="684.25" y="575" font-size="12" textLength="47.5" lengthAdjust="spacingAndGlyphs" fill="#000">TP 2.0 °C</text>
<text x="684.25" y="591" font-size="12" textLength="54.5" lengthAdjust="spacingAndGlyphs" fill="#000">-1.0hPa/3h</text>
<text x="684.25" y="607" font-size="12" textLength="54.5" lengthAdjust="spacingAndGlyphs" fill="#000">-1.0hPa/1h</text>
</g>
</svg></body></html>
